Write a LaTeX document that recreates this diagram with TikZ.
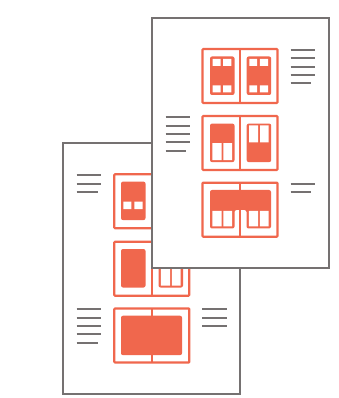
\documentclass[tikz,border=0pt]{standalone}
\definecolor{accent}{HTML}{F0674D}
\definecolor{ink}{HTML}{757171}
\tikzset{
  pagebox/.style={draw=ink, line width=1.7pt, fill=white},
  textline/.style={draw=ink, line width=1.65pt},
  framebox/.style={draw=accent, line width=1.6pt, rounded corners=0.6pt},
  solidpanel/.style={fill=accent, rounded corners=1.5pt},
  hole/.style={fill=white},
  outerbox/.pic={
    \draw[framebox] (0,0) rectangle (75,54);
    \draw[framebox] (37.8,0) -- (37.8,54);
  },
  panelsq/.pic={
    \fill[solidpanel] (0,0) rectangle (24.5,38.5);
    \fill[hole] (2.7,2.5) rectangle (10.5,9.5) (13.2,2.5) rectangle (21.3,9.5)
                (2.7,29) rectangle (10.5,36) (13.2,29) rectangle (21.3,36);
  },
  panelbot/.pic={
    \fill[solidpanel] (0,0) rectangle (24.5,38.5);
    \fill[hole] (2.3,19.5) rectangle (11.5,36.5) (13.3,19.5) rectangle (22.2,36.5);
  },
  paneltop/.pic={
    \fill[solidpanel] (0,0) rectangle (24.5,38.5);
    \fill[hole] (2.5,1.8) rectangle (11.5,18.7) (13.3,1.8) rectangle (21.9,18.7);
  },
  panelmid/.pic={
    \fill[solidpanel] (0,0) rectangle (24.5,38.5);
    \fill[hole] (2.3,20) rectangle (10.3,27.6) (13.3,20) rectangle (21.7,27.6);
  },
  panelplain/.pic={
    \fill[solidpanel] (0,0) rectangle (24.5,38.5);
  },
  panelwide/.pic={
    \fill[solidpanel] (0,0) rectangle (61,39.5);
  },
  panelband/.pic={
    \fill[solidpanel] (0,0) -- (61,0) -- (61,38.5) -- (36.5,38.5) -- (36.5,20) -- (24.5,20) -- (24.5,38.5) -- (0,38.5) -- cycle;
    \fill[hole] (2.3,21) rectangle (11.5,36.5) (13.3,21) rectangle (22.2,36.5)
                (38.8,21) rectangle (48,36.5) (49.8,21) rectangle (58.7,36.5);
  },
}
\begin{document}
\begin{tikzpicture}[x=0.75pt,y=-0.75pt]
\useasboundingbox (0,0) rectangle (338,398);

% ---------- front page ----------
\draw[pagebox] (63,143) rectangle (240,394);
\draw[textline] (76.7,175) -- (101,175) (76.7,183.7) -- (101,183.7) (76.7,192.3) -- (97.7,192.3);
\foreach \yy/\xe in {309.3/101,317.7/101,326/101,334.3/101,342.7/97.7}
  \draw[textline] (76.7,\yy) -- (\xe,\yy);
\foreach \yy in {309.3,317.7,326}
  \draw[textline] (202.3,\yy) -- (226.7,\yy);

\pic at (114.3,174.3) {outerbox};
\pic at (121,181.6) {panelmid};
\pic at (158.7,181.6) {panelmid};

\pic at (114.3,241.7) {outerbox};
\pic at (121,249) {panelplain};
\pic at (158.5,249) {panelbot};

\pic at (114.3,308.5) {outerbox};
\pic at (121,315.7) {panelwide};

% ---------- back page ----------
\draw[pagebox] (152,18) rectangle (329,268);
\foreach \yy/\xe in {50/314.7,58.3/314.7,66.7/314.7,75/314.7,83.3/311}
  \draw[textline] (290.7,\yy) -- (\xe,\yy);
\foreach \yy/\xe in {117.3/189.7,125.7/189.7,134/189.7,142.3/189.7,150.7/185.7}
  \draw[textline] (165.7,\yy) -- (\xe,\yy);
\draw[textline] (290.7,183.7) -- (314.7,183.7) (290.7,192.3) -- (311,192.3);

\pic at (202.5,49) {outerbox};
\pic at (210,56.5) {panelsq};
\pic at (246.7,56.5) {panelsq};

\pic at (202.5,116) {outerbox};
\pic at (210,123.6) {panelbot};
\pic at (246.7,123.6) {paneltop};

\pic at (202.5,182.7) {outerbox};
\pic at (210,190) {panelband};
\end{tikzpicture}
\end{document}
